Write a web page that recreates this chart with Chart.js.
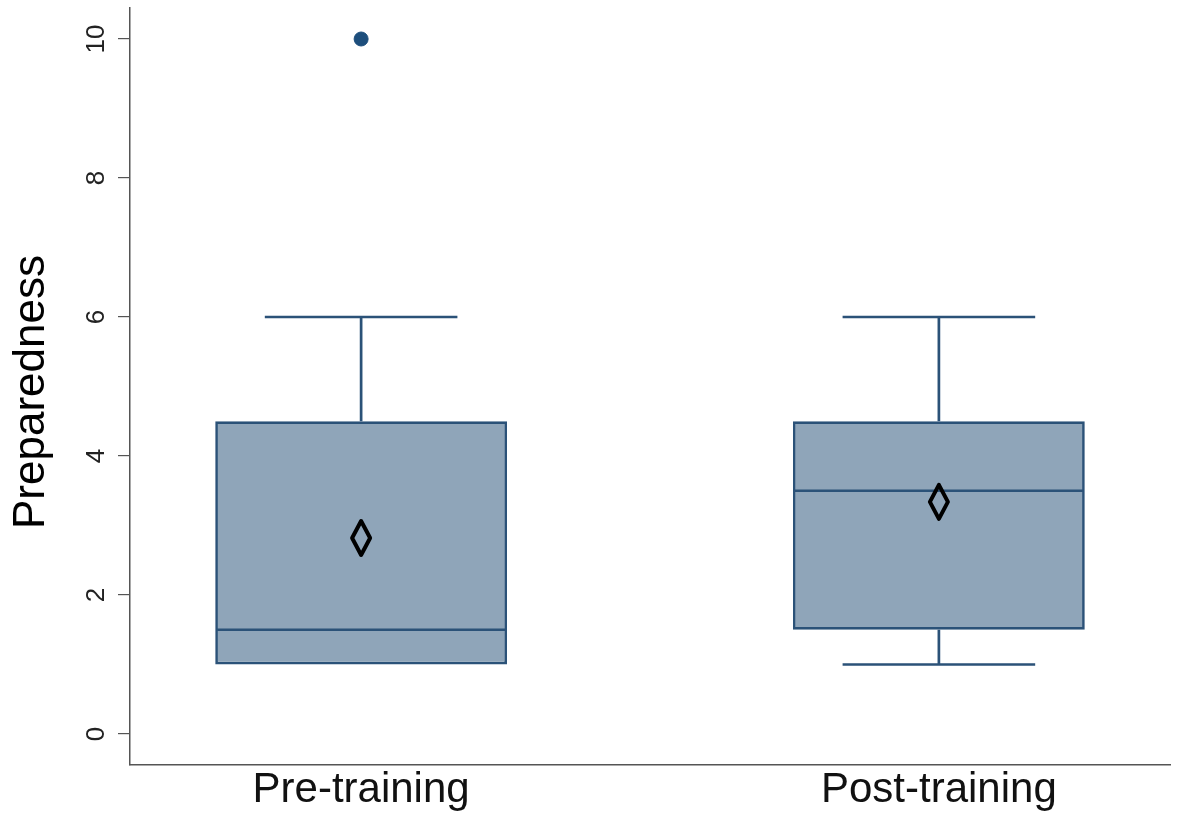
<!DOCTYPE html>
<html>
<head>
<meta charset="utf-8">
<script src="https://cdn.jsdelivr.net/npm/chart.js@4/dist/chart.umd.min.js"></script>
<style>
  html, body { margin: 0; padding: 0; background: #ffffff; }
  #wrap { width: 1178px; height: 821px; position: relative; }
</style>
</head>
<body>
<div id="wrap"><canvas id="c" width="1178" height="821"></canvas></div>
<script>
// Groups and their positions on the x axis
const categories = ['Pre-training', 'Post-training'];
const positions = [1, 2];

// Box-plot summaries per group
const q1 = [1, 1.5];
const q3 = [4.5, 4.5];
const medians = [1.5, 3.5];
const whiskerLow = [1, 1];
const whiskerHigh = [6, 6];
const means = [2.82, 3.34];

// Outside values
const outlierX = [1];
const outlierY = [10];

// Y axis tick values and title
const yTicks = [0, 2, 4, 6, 8, 10];
const yTitle = 'Preparedness';

const BOX_FILL = '#8fa5b9';
const BOX_LINE = '#2b5278';
const AXIS_COLOR = '#555555';
const FONT = '"Liberation Sans", Arial, Helvetica, sans-serif';

// Medians, whiskers, caps, mean diamonds, y tick labels and y title
const boxExtras = {
  id: 'boxExtras',
  afterDatasetsDraw(chart) {
    const { ctx } = chart;
    const xs = chart.scales.x, ys = chart.scales.y;
    const halfBox = (xs.getPixelForValue(1.25) - xs.getPixelForValue(1));
    const halfCap = (xs.getPixelForValue(1 + 1 / 6) - xs.getPixelForValue(1));
    ctx.save();
    ctx.strokeStyle = BOX_LINE;
    ctx.lineWidth = 2.7;
    ctx.lineCap = 'butt';
    positions.forEach((p, i) => {
      const cx = xs.getPixelForValue(p);
      // median
      const my = ys.getPixelForValue(medians[i]);
      ctx.beginPath();
      ctx.moveTo(cx - halfBox, my);
      ctx.lineTo(cx + halfBox, my);
      ctx.stroke();
      // upper whisker
      if (whiskerHigh[i] > q3[i]) {
        const t = ys.getPixelForValue(whiskerHigh[i]);
        const b = ys.getPixelForValue(q3[i]);
        ctx.beginPath();
        ctx.moveTo(cx, b); ctx.lineTo(cx, t);
        ctx.moveTo(cx - halfCap, t); ctx.lineTo(cx + halfCap, t);
        ctx.stroke();
      }
      // lower whisker
      if (whiskerLow[i] < q1[i]) {
        const t = ys.getPixelForValue(q1[i]);
        const b = ys.getPixelForValue(whiskerLow[i]);
        ctx.beginPath();
        ctx.moveTo(cx, t); ctx.lineTo(cx, b);
        ctx.moveTo(cx - halfCap, b); ctx.lineTo(cx + halfCap, b);
        ctx.stroke();
      }
      // mean marker (hollow diamond)
      const mY = ys.getPixelForValue(means[i]);
      ctx.save();
      ctx.strokeStyle = '#000000';
      ctx.lineWidth = 4;
      ctx.lineJoin = 'round';
      ctx.beginPath();
      ctx.moveTo(cx, mY - 17);
      ctx.lineTo(cx + 9, mY);
      ctx.lineTo(cx, mY + 17);
      ctx.lineTo(cx - 9, mY);
      ctx.closePath();
      ctx.stroke();
      ctx.restore();
    });
    ctx.restore();
  },
  afterDraw(chart) {
    const { ctx } = chart;
    const ys = chart.scales.y;
    ctx.save();
    ctx.fillStyle = '#222222';
    ctx.font = '26px ' + FONT;
    ctx.textAlign = 'center';
    ctx.textBaseline = 'alphabetic';
    yTicks.forEach(v => {
      const py = ys.getPixelForValue(v);
      ctx.save();
      ctx.translate(104, py);
      ctx.rotate(-Math.PI / 2);
      ctx.fillText(String(v), 0, 0);
      ctx.restore();
    });
    ctx.fillStyle = '#000000';
    ctx.font = '44px ' + FONT;
    ctx.save();
    ctx.translate(44, 392);
    ctx.rotate(-Math.PI / 2);
    ctx.fillText(yTitle, 0, 0);
    ctx.restore();
    ctx.restore();
  }
};

new Chart(document.getElementById('c'), {
  type: 'bar',
  data: {
    datasets: [
      {
        type: 'bar',
        label: 'IQR',
        data: positions.map((p, i) => ({ x: p, y: [q1[i], q3[i]] })),
        backgroundColor: BOX_FILL,
        borderColor: BOX_LINE,
        borderWidth: 2.7,
        borderSkipped: false,
        barPercentage: 0.505,
        categoryPercentage: 1.0,
        order: 2
      },
      {
        type: 'scatter',
        label: 'Outside values',
        data: outlierX.map((x, i) => ({ x: x, y: outlierY[i] })),
        backgroundColor: '#1d4e7c',
        borderColor: '#1d4e7c',
        pointRadius: 7,
        pointHoverRadius: 7,
        order: 1
      }
    ]
  },
  options: {
    responsive: false,
    animation: false,
    devicePixelRatio: 1,
    layout: { padding: { top: 8, right: 4, left: 0, bottom: 0 } },
    plugins: {
      legend: { display: false },
      tooltip: { enabled: false }
    },
    scales: {
      x: {
        type: 'linear',
        offset: false,
        min: 0.6,
        max: 2.4,
        afterBuildTicks: s => { s.ticks = positions.map(v => ({ value: v })); },
        afterFit: s => { s.height = 56; },
        ticks: {
          callback: v => categories[positions.indexOf(v)] || '',
          font: { family: FONT, size: 42 },
          color: '#111111',
          padding: 0,
          maxRotation: 0,
          minRotation: 0,
          autoSkip: false
        },
        grid: { display: false, drawTicks: false, offset: false },
        border: { display: true, color: AXIS_COLOR, width: 1.5 }
      },
      y: {
        type: 'linear',
        min: -0.446,
        max: 10.446,
        afterBuildTicks: s => { s.ticks = yTicks.map(v => ({ value: v })); },
        afterFit: s => { s.width = 130; },
        ticks: { display: false },
        grid: {
          display: true,
          drawOnChartArea: false,
          drawTicks: true,
          tickLength: 12,
          color: AXIS_COLOR,
          lineWidth: 1.2
        },
        border: { display: true, color: AXIS_COLOR, width: 1.5 }
      }
    }
  },
  plugins: [boxExtras]
});
</script>
</body>
</html>
